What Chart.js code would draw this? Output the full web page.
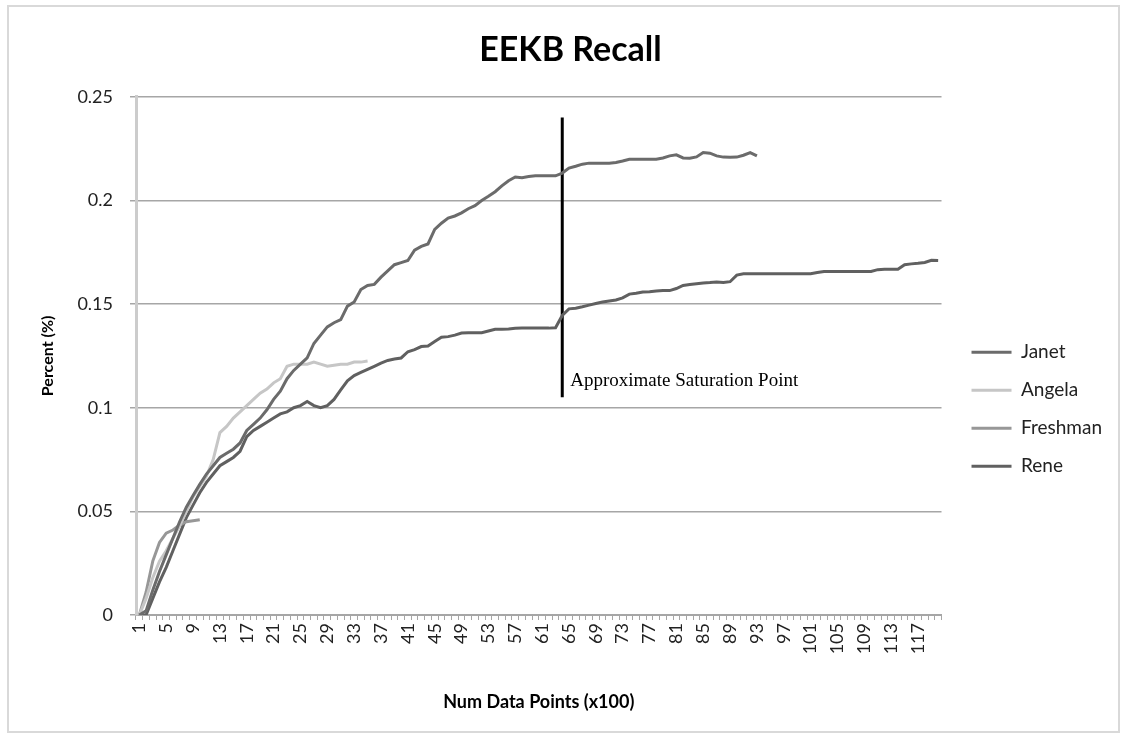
<!DOCTYPE html>
<html>
<head>
<meta charset="utf-8">
<title>EEKB Recall</title>
<script src="https://cdn.jsdelivr.net/npm/chart.js@4.4.1/dist/chart.umd.min.js"></script>
<style>
  html, body { margin: 0; padding: 0; background: #fff; }
  #frame { position: absolute; left: 7px; top: 5px; width: 1109px; height: 724px; border: 2px solid #d9d9d9; }
  #frame canvas { display: block; }
</style>
</head>
<body>
<div id="frame"><canvas id="chart" width="1109" height="724"></canvas></div>
<script>
// categories 1..120 (x100 data points)
const labels = Array.from({ length: 120 }, (_, i) => String(i + 1));

const janet = [
  0, 0.002, 0.012, 0.021, 0.029, 0.037, 0.045, 0.052, 0.0577, 0.063,
  0.068, 0.072, 0.076, 0.078, 0.08, 0.083, 0.089, 0.092, 0.095, 0.099,
  0.104, 0.108, 0.114, 0.118, 0.121, 0.124, 0.131, 0.135, 0.139, 0.141,
  0.1425, 0.149, 0.151, 0.157, 0.159, 0.1595, 0.163, 0.166, 0.169, 0.17,
  0.171, 0.176, 0.1778, 0.179, 0.186, 0.189, 0.1915, 0.1925, 0.194, 0.196,
  0.1975, 0.2, 0.202, 0.2042, 0.207, 0.2095, 0.2113, 0.211, 0.2115, 0.2119,
  0.2119, 0.2119, 0.2119, 0.2132, 0.2156, 0.2165, 0.2175, 0.218, 0.218, 0.218,
  0.218, 0.2183, 0.219, 0.2199, 0.2199, 0.2199, 0.2199, 0.2199, 0.2205, 0.2215,
  0.222, 0.2205, 0.2204, 0.221, 0.2231, 0.2228, 0.2215, 0.2209, 0.2208, 0.2209,
  0.2218, 0.2231, 0.2215
];

const angela = [
  0, 0.008, 0.018, 0.026, 0.031, 0.037, 0.043, 0.05, 0.057, 0.062,
  0.067, 0.075, 0.088, 0.091, 0.095, 0.098, 0.101, 0.104, 0.107, 0.109,
  0.112, 0.114, 0.12, 0.121, 0.121, 0.121, 0.122, 0.121, 0.12, 0.1205,
  0.121, 0.121, 0.122, 0.122, 0.1225
];

const freshman = [0, 0.011, 0.026, 0.035, 0.0395, 0.041, 0.0434, 0.045, 0.0455, 0.046];

const rene = [
  0, 0, 0.008, 0.016, 0.023, 0.031, 0.039, 0.047, 0.053, 0.059,
  0.064, 0.068, 0.072, 0.074, 0.076, 0.079, 0.086, 0.089, 0.091, 0.093,
  0.095, 0.097, 0.098, 0.1, 0.101, 0.103, 0.101, 0.1, 0.101, 0.104,
  0.1086, 0.113, 0.1155, 0.117, 0.1185, 0.12, 0.1215, 0.1228, 0.1235, 0.124,
  0.127, 0.128, 0.1295, 0.1298, 0.132, 0.134, 0.1343, 0.135, 0.136, 0.1362,
  0.1362, 0.1362, 0.137, 0.1378, 0.1378, 0.138, 0.1383, 0.1384, 0.1384, 0.1384,
  0.1384, 0.1384, 0.1386, 0.1445, 0.1477, 0.148, 0.1487, 0.1495, 0.1503, 0.151,
  0.1515, 0.152, 0.153, 0.1548, 0.1552, 0.1558, 0.156, 0.1563, 0.1565, 0.1565,
  0.1575, 0.159, 0.1594, 0.1598, 0.1602, 0.1604, 0.1607, 0.1604, 0.1608, 0.164,
  0.1646, 0.1646, 0.1646, 0.1646, 0.1646, 0.1646, 0.1646, 0.1646, 0.1646, 0.1646,
  0.1646, 0.1652, 0.1657, 0.1657, 0.1657, 0.1657, 0.1657, 0.1657, 0.1657, 0.1657,
  0.1666, 0.1668, 0.1668, 0.1668, 0.169, 0.1694, 0.1697, 0.1701, 0.1711, 0.171
];

const yTicks = [0, 0.05, 0.1, 0.15, 0.2, 0.25];

// saturation marker
const markerCategory = "64";
const markerRange = [0.105, 0.24];
const markerText = "Approximate Saturation Point";
const markerTextValue = 0.113;

Chart.defaults.font.family = "Lato";
Chart.defaults.color = "#222";

const saturationLabel = {
  id: "saturationLabel",
  afterDatasetsDraw(chart) {
    const { ctx, scales } = chart;
    const px = scales.x.getPixelForValue(labels.indexOf(markerCategory));
    const py = scales.y.getPixelForValue(markerTextValue);
    ctx.save();
    ctx.font = '19px "Liberation Serif"';
    ctx.fillStyle = "#000";
    ctx.textBaseline = "middle";
    ctx.fillText(markerText, px + 8, py);
    ctx.restore();
  }
};

function lineSet(label, data, color) {
  return {
    label: label,
    data: data,
    borderColor: color,
    backgroundColor: color,
    borderWidth: 3,
    pointRadius: 0,
    tension: 0,
    fill: false
  };
}

const chart = new Chart(document.getElementById("chart"), {
  type: "line",
  data: {
    labels: labels,
    datasets: [
      lineSet("Janet", janet, "#6b6b6b"),
      lineSet("Angela", angela, "#c6c6c6"),
      lineSet("Freshman", freshman, "#979797"),
      lineSet("Rene", rene, "#606060"),
      {
        label: "",
        data: [
          { x: markerCategory, y: markerRange[0] },
          { x: markerCategory, y: markerRange[1] }
        ],
        borderColor: "#000",
        borderWidth: 3,
        pointRadius: 0
      }
    ]
  },
  options: {
    responsive: false,
    animation: false,
    devicePixelRatio: 1,
    layout: { padding: { left: 20, right: 6, top: 0, bottom: 16 } },
    plugins: {
      title: {
        display: true,
        text: "EEKB Recall",
        color: "#000",
        font: { size: 34, weight: "bold", lineHeight: 1.2 },
        padding: { top: 23, bottom: 26 }
      },
      legend: {
        position: "right",
        align: "start",
        fullSize: false,
        title: { display: true, text: " ", font: { size: 10, lineHeight: 1 }, padding: { top: 217, bottom: 0 } },
        labels: {
          boxWidth: 40,
          boxHeight: 3,
          padding: 19,
          font: { size: 19 },
          color: "#222",
          filter: (item) => item.text !== "",
          generateLabels(c) {
            const items = Chart.defaults.plugins.legend.labels.generateLabels(c);
            items.forEach((it) => { it.lineWidth = 0; });
            return items;
          }
        }
      },
      tooltip: { enabled: false }
    },
    scales: {
      x: {
        offset: true,
        grid: { display: true, drawOnChartArea: false, offset: true, tickLength: 5, color: "#a6a6a6", lineWidth: 1 },
        border: { color: "#a6a6a6", width: 2 },
        ticks: {
          autoSkip: false,
          minRotation: 90,
          maxRotation: 90,
          padding: 3,
          font: { size: 18 },
          callback: (v, i) => (i % 4 === 0 ? labels[i] : "")
        },
        title: {
          display: true,
          text: "Num Data Points (x100)",
          color: "#000",
          font: { size: 18, weight: "bold", lineHeight: 1.2 },
          padding: { top: 0, bottom: 2 }
        },
        afterFit: (s) => { s.height = 100; }
      },
      y: {
        min: 0,
        max: 0.25,
        afterBuildTicks: (s) => { s.ticks = yTicks.map((v) => ({ value: v })); },
        grid: { color: "#a6a6a6", lineWidth: 1.5, tickLength: 6 },
        border: { color: "#cccccc", width: 3 },
        ticks: {
          padding: 17,
          font: { size: 18 },
          callback: (v) => String(+v.toFixed(2))
        },
        title: {
          display: true,
          text: "Percent (%)",
          color: "#000",
          font: { size: 16, weight: "bold", lineHeight: 1.2 },
          padding: { top: 9, bottom: 0 }
        },
        afterFit: (s) => { s.width = 107; }
      },
      gap: {
        type: "linear",
        position: "right",
        grid: { display: false },
        border: { display: false },
        ticks: { display: false },
        afterFit: (s) => { s.width = 11; }
      }
    }
  },
  plugins: [saturationLabel]
});
</script>
</body>
</html>
